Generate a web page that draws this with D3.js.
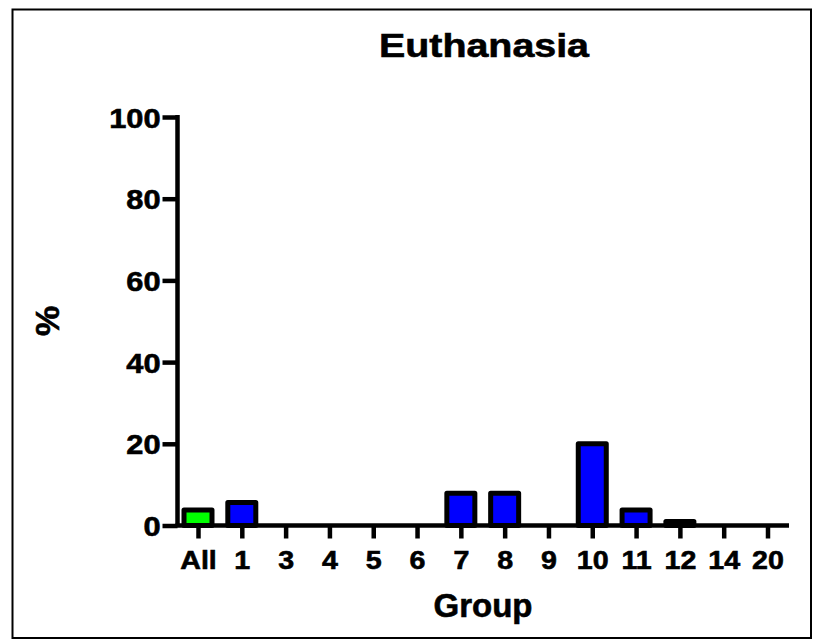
<!DOCTYPE html>
<html>
<head>
<meta charset="utf-8">
<script src="https://cdn.jsdelivr.net/npm/d3@7"></script>
<style>
  html, body { margin: 0; padding: 0; background: #fff; }
  svg { display: block; }
  text { font-family: "Liberation Sans", Arial, sans-serif; font-weight: bold; fill: #000; stroke: #000; stroke-width: 0.6px; }
</style>
</head>
<body>
<svg id="chart" width="817" height="641"></svg>
<script>
const categories = ["All", "1", "3", "4", "5", "6", "7", "8", "9", "10", "11", "12", "14", "20"];
const values = [3.8, 5.6, 0, 0, 0, 0, 7.9, 7.9, 0, 20, 3.8, 1, 0, 0];
const barColors = ["#00ff00", "#0000ff", "#0000ff", "#0000ff", "#0000ff", "#0000ff", "#0000ff", "#0000ff", "#0000ff", "#0000ff", "#0000ff", "#0000ff", "#0000ff", "#0000ff"];
const yTicks = [0, 20, 40, 60, 80, 100];
const title = "Euthanasia";
const xLabel = "Group";
const yLabel = "%";

const svg = d3.select("#chart");

// Outer frame
svg.append("rect")
  .attr("x", 12.5).attr("y", 9.5)
  .attr("width", 798.5).attr("height", 628.5)
  .attr("fill", "none").attr("stroke", "#000").attr("stroke-width", 2);

const x0 = 177.5, xEnd = 789;
const y = d3.scaleLinear().domain([0, 100]).range([525.5, 117]);
const centers = d3.scalePoint().domain(categories).range([198, 767.5]);

// Bars
svg.append("g").selectAll("rect")
  .data(categories.map((c, i) => ({ c, v: values[i], col: barColors[i] })).filter(d => d.v > 0))
  .join("rect")
  .attr("x", d => centers(d.c) - 14)
  .attr("width", 28)
  .attr("y", d => y(d.v))
  .attr("height", d => y(0) - y(d.v))
  .attr("fill", d => d.col)
  .attr("stroke", "#000")
  .attr("stroke-width", 5)
  .attr("stroke-linejoin", "round");

// Y axis
const yAxis = svg.append("g").attr("transform", `translate(${x0},0)`)
  .call(d3.axisLeft(y).tickValues(yTicks).tickSize(15).tickPadding(3).tickFormat(d3.format("d")));
yAxis.select(".domain").attr("d", `M0,${y(100) - 2}V${y(0)}`).attr("stroke", "#000").attr("stroke-width", 4.5);
yAxis.selectAll(".tick line").attr("stroke", "#000").attr("stroke-width", 4.5);
yAxis.selectAll(".tick text").attr("font-size", 28).attr("dy", "0.36em")
  .attr("x", -17 / 1.1).attr("transform", "scale(1.1,1)")
  .style("font-family", "'Liberation Sans', Arial, sans-serif").style("font-weight", "bold").attr("fill", "#000");

// X axis
const xAxis = svg.append("g").attr("transform", `translate(0,${y(0)})`)
  .call(d3.axisBottom(centers).tickSize(13).tickPadding(10));
xAxis.select(".domain").attr("d", `M${x0 - 2},0H${xEnd}`).attr("stroke", "#000").attr("stroke-width", 4.5);
xAxis.selectAll(".tick line").attr("stroke", "#000").attr("stroke-width", 4.5);
xAxis.selectAll(".tick text").attr("font-size", 26).attr("dy", "0.72em").attr("y", 25)
  .attr("transform", "scale(1.1,1)")
  .style("font-family", "'Liberation Sans', Arial, sans-serif").style("font-weight", "bold").attr("fill", "#000");

// Title
svg.append("text").attr("x", 484).attr("y", 57).attr("text-anchor", "middle")
  .attr("font-size", 34).attr("textLength", 210).attr("lengthAdjust", "spacingAndGlyphs")
  .text(title);

// X label
svg.append("text").attr("x", 483).attr("y", 617).attr("text-anchor", "middle")
  .attr("font-size", 33).text(xLabel);

// Y label
svg.append("text").attr("transform", "translate(59,321) rotate(-90)").attr("text-anchor", "middle")
  .attr("font-size", 34).text(yLabel);
</script>
</body>
</html>
